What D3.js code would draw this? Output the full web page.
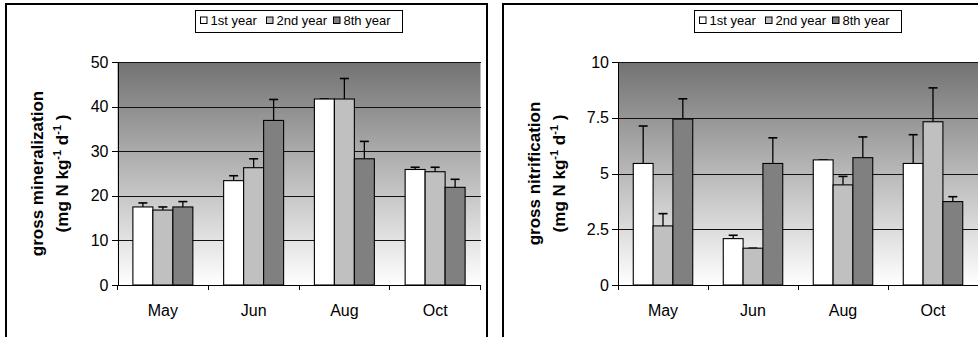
<!DOCTYPE html>
<html>
<head>
<meta charset="utf-8">
<script src="https://cdn.jsdelivr.net/npm/d3@7"></script>
<style>
  body { margin: 0; background: #fff; }
  svg { display: block; }
  svg text { font-family: "Liberation Sans", Arial, sans-serif; fill: #000; }
</style>
</head>
<body>
<script>
// categories and series
const months = ['May', 'Jun', 'Aug', 'Oct']
const seriesNames = ['1st year', '2nd year', '8th year']
const seriesFill = ['#ffffff', '#c0c0c0', '#808080']

// gross mineralization (mg N kg-1 d-1)
const min1st = [17.5, 23.4, 41.7, 25.9]
const min2nd = [16.8, 26.3, 41.7, 25.4]
const min8th = [17.5, 36.9, 28.3, 21.9]
const minErr1st = [0.9, 1.1, 0, 0.5]
const minErr2nd = [0.7, 2.0, 4.6, 1.0]
const minErr8th = [1.2, 4.7, 3.9, 1.8]
const minTicks = [0, 10, 20, 30, 40, 50]

// gross nitrification (mg N kg-1 d-1)
const nit1st = [5.45, 2.08, 5.61, 5.45]
const nit2nd = [2.65, 1.65, 4.49, 7.32]
const nit8th = [7.44, 5.45, 5.71, 3.74]
const nitErr1st = [1.68, 0.15, 0, 1.29]
const nitErr2nd = [0.55, 0, 0.38, 1.52]
const nitErr8th = [0.91, 1.15, 0.93, 0.22]
const nitTicks = [0, 2.5, 5, 7.5, 10]

const svg = d3.select('body').append('svg').attr('width', 978).attr('height', 337)

// background gradient of the plot area
const grad = svg.append('defs').append('linearGradient')
    .attr('id', 'plotbg').attr('x1', 0).attr('y1', 0).attr('x2', 0).attr('y2', 1)
grad.append('stop').attr('offset', '0%').attr('stop-color', '#727272')
grad.append('stop').attr('offset', '100%').attr('stop-color', '#ffffff')

function drawPanel(panel) {
    const g = svg.append('g')
    // frame round the chart
    g.append('rect')
        .attr('x', panel.frameX).attr('y', 4)
        .attr('width', 481).attr('height', 360)
        .attr('fill', 'none').attr('stroke', '#000').attr('stroke-width', 2)

    const left = panel.plotLeft, right = panel.plotRight
    const top = 62, bottom = 285

    const x = d3.scaleBand().domain(months).range([left, right])
    const x1 = d3.scaleBand().domain(seriesNames).range([0, x.bandwidth()]).paddingOuter(0.77)
    const y = d3.scaleLinear().domain([0, d3.max(panel.ticks)]).range([bottom, top])

    g.append('rect')
        .attr('x', left).attr('y', top)
        .attr('width', right - left).attr('height', bottom - top)
        .attr('fill', 'url(#plotbg)')

    // gridlines
    const grid = g.append('g').attr('transform', `translate(${left},0)`)
        .call(d3.axisLeft(y).tickValues(panel.ticks.slice(1)).tickSize(-(right - left)).tickFormat(''))
    grid.select('.domain').remove()
    grid.selectAll('line').attr('stroke', '#111').attr('shape-rendering', 'crispEdges')

    // bars
    const rows = months.map((m, i) => ({
        month: m,
        items: seriesNames.map((s, k) => ({
            s, v: panel.values[k][i], e: panel.errors[k][i], fill: seriesFill[k]
        }))
    }))
    const groups = g.selectAll('g.grp').data(rows).enter().append('g')
        .attr('class', 'grp')
        .attr('transform', d => `translate(${x(d.month)},0)`)

    // error bars (upper only)
    groups.selectAll('line.err').data(d => d.items).enter().append('line')
        .attr('class', 'err')
        .attr('x1', d => x1(d.s) + x1.bandwidth() / 2)
        .attr('x2', d => x1(d.s) + x1.bandwidth() / 2)
        .attr('y1', d => y(d.v))
        .attr('y2', d => y(d.v + d.e))
        .attr('stroke', '#000').attr('stroke-width', 1.3)
    groups.selectAll('line.cap').data(d => d.items).enter().append('line')
        .attr('class', 'cap')
        .attr('x1', d => x1(d.s) + x1.bandwidth() / 2 - 4.5)
        .attr('x2', d => x1(d.s) + x1.bandwidth() / 2 + 4.5)
        .attr('y1', d => y(d.v + d.e))
        .attr('y2', d => y(d.v + d.e))
        .attr('stroke', '#000').attr('stroke-width', 1.6)

    groups.selectAll('rect').data(d => d.items).enter().append('rect')
        .attr('x', d => x1(d.s))
        .attr('y', d => y(d.v))
        .attr('width', x1.bandwidth())
        .attr('height', d => y(0) - y(d.v))
        .attr('fill', d => d.fill)
        .attr('stroke', '#000').attr('stroke-width', 1.1)

    // y axis
    const yAxis = g.append('g').attr('transform', `translate(${left},0)`)
        .call(d3.axisLeft(y).tickValues(panel.ticks).tickSize(6).tickSizeOuter(0).tickPadding(3).tickFormat(d => d))
    yAxis.attr('font-family', null).attr('font-size', 16)
    yAxis.selectAll('line, path').attr('stroke', '#000').attr('shape-rendering', 'crispEdges')

    // x axis with labels centred in bands and ticks at band edges
    const xAxis = g.append('g').attr('transform', `translate(0,${bottom})`)
        .call(d3.axisBottom(x).tickSize(0).tickSizeOuter(0).tickPadding(20))
    xAxis.attr('font-family', null).attr('font-size', 16)
    xAxis.select('.domain').attr('stroke', '#000').attr('shape-rendering', 'crispEdges')
    const edges = months.map(m => x(m)).concat([x.range()[1]])
    xAxis.selectAll('line.edge').data(edges).enter().append('line')
        .attr('class', 'edge')
        .attr('x1', d => d).attr('x2', d => d)
        .attr('y1', 0).attr('y2', 5)
        .attr('stroke', '#000').attr('shape-rendering', 'crispEdges')

    // y title
    const cy = (top + bottom) / 2
    g.append('text')
        .attr('transform', `translate(${panel.frameX + 37},${cy}) rotate(-90)`)
        .attr('text-anchor', 'middle').attr('font-size', 17).attr('font-weight', 'bold')
        .text(panel.title)
    const unit = g.append('text')
        .attr('transform', `translate(${panel.frameX + 62},${cy}) rotate(-90)`)
        .attr('text-anchor', 'middle').attr('font-size', 17).attr('font-weight', 'bold')
    unit.append('tspan').text('(mg N kg')
    unit.append('tspan').attr('dy', -7).attr('font-size', 11).text('-1')
    unit.append('tspan').attr('dy', 7).text('  d')
    unit.append('tspan').attr('dy', -7).attr('font-size', 11).text('-1')
    unit.append('tspan').attr('dy', 7).text(' )')

    // legend
    const lx = (left + right) / 2 - 103.5
    const lg = g.append('g').attr('transform', `translate(${lx},10.5)`)
    lg.append('rect').attr('width', 207).attr('height', 22)
        .attr('fill', '#fff').attr('stroke', '#000').attr('stroke-width', 1)
    const itemX = [5, 71, 138]
    seriesNames.forEach((s, k) => {
        lg.append('rect').attr('x', itemX[k]).attr('y', 6.5).attr('width', 6.5).attr('height', 6.5)
            .attr('fill', seriesFill[k]).attr('stroke', '#000').attr('stroke-width', 1)
        lg.append('text').attr('x', itemX[k] + 10).attr('y', 14)
            .attr('font-size', 13).text(s)
    })
}

drawPanel({
    frameX: 6, plotLeft: 117.5, plotRight: 480.5,
    ticks: minTicks, title: 'gross mineralization',
    values: [min1st, min2nd, min8th], errors: [minErr1st, minErr2nd, minErr8th]
})
drawPanel({
    frameX: 503, plotLeft: 618, plotRight: 978,
    ticks: nitTicks, title: 'gross nitrification',
    values: [nit1st, nit2nd, nit8th], errors: [nitErr1st, nitErr2nd, nitErr8th]
})
</script>
</body>
</html>
